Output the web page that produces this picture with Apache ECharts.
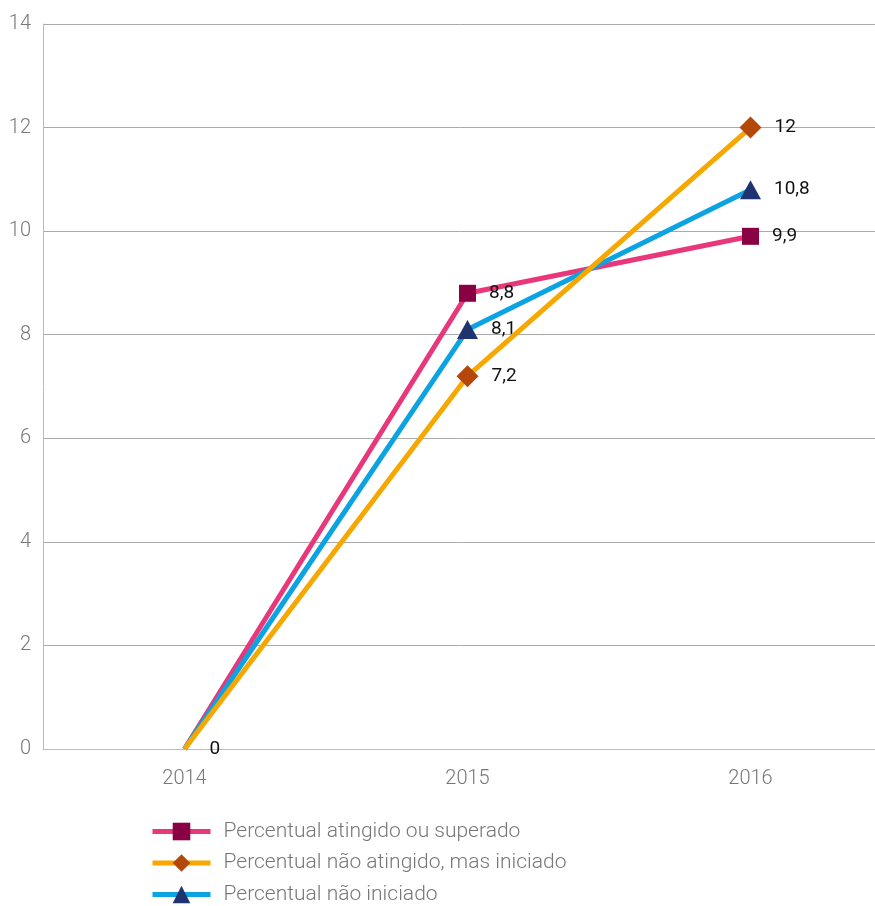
<!DOCTYPE html>
<html><head><meta charset="utf-8">
<script src="https://cdn.jsdelivr.net/npm/echarts@6/dist/echarts.min.js"></script>
<style>html,body{margin:0;padding:0;background:#fff}#c{width:875px;height:906px}</style>
</head><body><div id="c"></div>
<script>
const categories = ['2014', '2015', '2016'];
const atingido = [0, 8.8, 9.9];
const naoAtingido = [0, 7.2, 12];
const naoIniciado = [0, 8.1, 10.8];
const yTicks = [0, 2, 4, 6, 8, 10, 12, 14];

const names = ['Percentual atingido ou superado', 'Percentual não atingido, mas iniciado', 'Percentual não iniciado'];
const font = 'Roboto, "DejaVu Sans", sans-serif';

function mk(arr, showZeroLabel) {
  return arr.map((v, i) => {
    if (i === 0) return { value: v, symbolSize: 0, label: { show: showZeroLabel, offset: [12, 0] } };
    return v;
  });
}
const labelCfg = {
  show: true, position: 'right', distance: 13, color: '#111', fontSize: 19, fontFamily: font,
  formatter: p => String(p.value).replace('.', ',')
};

const chart = echarts.init(document.getElementById('c'), null, { renderer: 'canvas' });
chart.setOption({
  animation: false,
  backgroundColor: '#fff',
  grid: { left: 43, width: 849, top: 24, height: 725, outerBoundsMode: 'none', containLabel: false },
  legend: {
    orient: 'vertical', left: 150, top: 821, padding: 0, height: 90,
    itemWidth: 58, itemHeight: 22, itemGap: 10.5,
    lineStyle: { width: 5 },
    textStyle: { color: '#777', fontSize: 21, fontFamily: font, fontWeight: 300, padding: [0, 0, 0, 8] },
    data: names
  },
  xAxis: {
    type: 'category', data: categories, boundaryGap: true,
    axisLine: { show: true, lineStyle: { color: '#bbb', width: 1 } },
    axisTick: { show: false },
    axisLabel: { color: '#777', fontSize: 20, fontFamily: font, fontWeight: 300, margin: 20 },
    splitLine: { show: false }
  },
  yAxis: {
    type: 'value', min: yTicks[0], max: yTicks[yTicks.length - 1], interval: 2,
    axisLine: { show: true, lineStyle: { color: '#bbb', width: 1 } },
    axisTick: { show: false },
    axisLabel: { color: '#777', fontSize: 20, fontFamily: font, fontWeight: 300, margin: 12 },
    splitLine: { show: true, lineStyle: { color: '#aaa', width: 1 } }
  },
  series: [
    {
      name: names[0], type: 'line', data: mk(atingido, false), z: 2,
      symbol: 'rect', symbolSize: 17,
      lineStyle: { color: '#E8377B', width: 5 },
      itemStyle: { color: '#8A0045' },
      label: labelCfg
    },
    {
      name: names[1], type: 'line', data: mk(naoAtingido, true), z: 4,
      symbol: 'diamond', symbolSize: [22, 22],
      lineStyle: { color: '#F6A800', width: 5 },
      itemStyle: { color: '#B4470A' },
      label: labelCfg
    },
    {
      name: names[2], type: 'line', data: mk(naoIniciado, false), z: 3,
      symbol: 'triangle', symbolSize: [21, 19],
      lineStyle: { color: '#0BA3E2', width: 5 },
      itemStyle: { color: '#1E3370' },
      label: labelCfg
    }
  ]
});
</script></body></html>
